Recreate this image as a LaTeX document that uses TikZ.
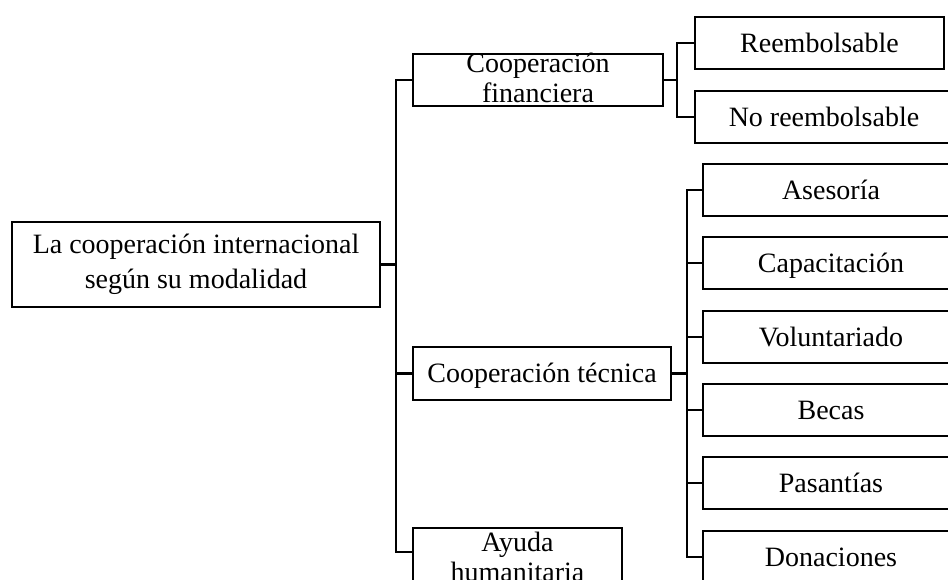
\documentclass[tikz,border=0pt]{standalone}
\usepackage{fontspec}
\setmainfont{Liberation Serif}
\begin{document}
\begin{tikzpicture}[x=1pt,y=-1pt,
  box/.style={draw, line width=2.2pt, inner sep=0pt, minimum height=52pt},
  lbl/.style={font=\fontsize{28}{30}\selectfont, inner sep=0pt, align=center},
  one/.style={lbl, text height=20pt, text depth=2pt},
  link/.style={line width=2.2pt}]
\clip (0,0) rectangle (948,579);

% root
\node[box, minimum width=368pt, minimum height=85pt,
  label={[lbl, font=\fontsize{28}{35}\selectfont]center:{La cooperación internacional\\según su modalidad}}]
  (root) at (196,264.5) {};

% second level
\node[box, minimum width=250pt,
  label={[lbl, yshift=2.25pt]center:{Cooperación\\financiera}}] (fin) at (538,80) {};
\node[box, minimum width=258pt, minimum height=53pt,
  label={[one]center:{Cooperación técnica}}] (tec) at (542,373.5) {};
\node[box, minimum width=209pt, minimum height=62pt,
  label={[lbl, yshift=2.5pt]center:{Ayuda\\humanitaria}}] (ayu) at (517.5,559) {};

% financial branch
\node[box, minimum width=249pt, label={[one]center:{Reembolsable}}] (reem) at (819.5,43) {};
\node[box, minimum width=258pt, label={[one]center:{No reembolsable}}] (noreem) at (824,117) {};

% technical branch
\node[box, minimum width=256pt, label={[one]center:{Asesoría}}] (ases) at (831,190) {};
\node[box, minimum width=256pt, label={[one]center:{Capacitación}}] (capa) at (831,263) {};
\node[box, minimum width=256pt, label={[one]center:{Voluntariado}}] (volu) at (831,337) {};
\node[box, minimum width=256pt, label={[one]center:{Becas}}] (beca) at (831,410) {};
\node[box, minimum width=256pt, label={[one]center:{Pasantías}}] (pasa) at (831,483) {};
\node[box, minimum width=256pt, label={[one]center:{Donaciones}}] (dona) at (831,557) {};

% junction columns
\coordinate (j1) at (396,266);
\coordinate (j2) at (677,80);
\coordinate (j3) at (687,373.5);

% root to second level
\draw[link] (root.east) -- (root.east -| j1);
\draw[link] (fin.west) -- (fin.west -| j1) -- ([yshift=7pt]ayu.west -| j1) -- ([yshift=7pt]ayu.west);
\draw[link] (tec.west) -- (tec.west -| j1);

% financial children
\draw[link] (fin.east) -- (fin.east -| j2);
\draw[link] (reem.west) -- (reem.west -| j2) -- (noreem.west -| j2) -- (noreem.west);

% technical children
\draw[link] (tec.east) -- (tec.east -| j3);
\draw[link] (ases.west) -- (ases.west -| j3) -- (dona.west -| j3) -- (dona.west);
\foreach \n in {capa,volu,beca,pasa}
  \draw[link] (\n.west) -- (\n.west -| j3);
\end{tikzpicture}
\end{document}
